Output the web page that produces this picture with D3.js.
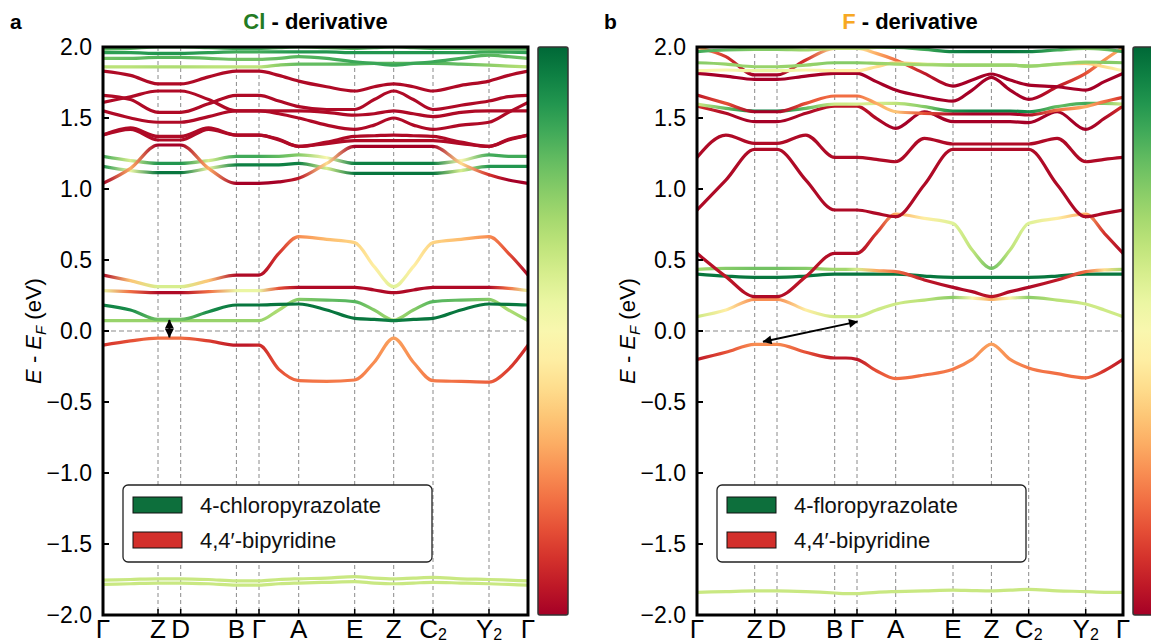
<!DOCTYPE html>
<html><head><meta charset="utf-8">
<script src="https://cdn.jsdelivr.net/npm/d3@7"></script>
<style>
body{margin:0;background:#fff}
svg{display:block}
text{font-family:"Liberation Sans",Arial,Helvetica,sans-serif}
</style>
</head><body>
<svg id="chart" width="1151" height="643"></svg>
<script>
// ---------- k-path (high-symmetry points) ----------
const kLabels = ["Γ","Z","D","B","Γ","A","E","Z","C|2","Y|2","Γ"];
const kTicksA = [0, 0.550, 0.777, 1.334, 1.560, 1.957, 2.517, 2.907, 3.300, 3.860, 4.250];
const kTicksB = [0, 0.577, 0.800, 1.377, 1.600, 1.987, 2.560, 2.944, 3.317, 3.887, 4.260];
const yTicks = [2.0, 1.5, 1.0, 0.5, 0.0, -0.5, -1.0, -1.5, -2.0];
// Each band: energies (eV) at every high-symmetry point and segment midpoint (21 samples);
// colour value = pyrazolate weight (0 = bipyridine, 1 = pyrazolate)

// ---------- panel a : Cl derivative ----------
const aG1  = [1.985,1.99,2.0,2.0,2.0,1.995,1.99,1.99,1.99,1.995,2.0,1.995,1.99,1.995,2.0,1.995,1.99,1.99,1.985,1.985,1.985];
const aG1c = [0.82,0.82,0.8,0.8,0.8,0.82,0.85,0.85,0.85,0.82,0.8,0.8,0.82,0.82,0.8,0.82,0.82,0.82,0.8,0.82,0.82];
const aG2  = [1.96,1.96,1.955,1.955,1.955,1.96,1.965,1.965,1.965,1.965,1.965,1.965,1.96,1.96,1.96,1.96,1.96,1.96,1.965,1.963,1.96];
const aG2c = [0.88,0.88,0.9,0.9,0.9,0.88,0.85,0.85,0.85,0.88,0.9,0.9,0.9,0.9,0.9,0.9,0.9,0.88,0.85,0.86,0.88];
const aG3  = [1.92,1.92,1.927,1.927,1.927,1.92,1.913,1.913,1.913,1.92,1.932,1.92,1.896,1.885,1.873,1.885,1.896,1.92,1.943,1.932,1.92];
const aG3c = [0.78,0.8,0.82,0.82,0.82,0.8,0.78,0.78,0.78,0.8,0.82,0.84,0.86,0.86,0.86,0.86,0.86,0.84,0.82,0.8,0.78];
const aG4  = [1.86,1.86,1.86,1.86,1.86,1.86,1.86,1.86,1.86,1.873,1.88,1.88,1.88,1.885,1.885,1.885,1.885,1.88,1.873,1.866,1.86];
const aG4c = [0.66,0.66,0.68,0.68,0.68,0.66,0.65,0.65,0.65,0.74,0.8,0.8,0.82,0.82,0.82,0.82,0.82,0.8,0.74,0.7,0.66];
const aR1  = [1.83,1.80,1.74,1.74,1.74,1.79,1.83,1.83,1.83,1.80,1.76,1.72,1.69,1.72,1.74,1.72,1.69,1.73,1.76,1.80,1.83];
const aR2  = [1.66,1.63,1.54,1.54,1.54,1.60,1.66,1.66,1.66,1.62,1.58,1.56,1.56,1.63,1.69,1.63,1.56,1.59,1.62,1.65,1.66];
const aR3  = [1.61,1.65,1.69,1.69,1.69,1.63,1.55,1.55,1.55,1.55,1.55,1.54,1.52,1.53,1.55,1.53,1.51,1.54,1.55,1.55,1.55];
const aR4  = [1.55,1.50,1.47,1.47,1.47,1.51,1.55,1.55,1.55,1.53,1.50,1.45,1.42,1.45,1.50,1.45,1.42,1.45,1.47,1.54,1.61];
const aR5  = [1.38,1.43,1.37,1.37,1.37,1.43,1.38,1.38,1.38,1.35,1.30,1.33,1.37,1.375,1.38,1.375,1.37,1.33,1.30,1.35,1.38];
const aR6  = [1.38,1.42,1.345,1.345,1.345,1.42,1.38,1.38,1.38,1.345,1.30,1.32,1.34,1.34,1.34,1.34,1.34,1.32,1.30,1.345,1.38];
const aR7  = [1.04,1.145,1.31,1.31,1.31,1.145,1.04,1.04,1.04,1.05,1.075,1.18,1.30,1.30,1.30,1.30,1.30,1.18,1.10,1.063,1.04];
const aR7c = [0.0,0.3,0.0,0.0,0.0,0.3,0.0,0.0,0.0,0.0,0.05,0.4,0.0,0.0,0.0,0.0,0.0,0.4,0.1,0.0,0.0];
const redC = [0.02,0.02,0.02,0.02,0.02,0.02,0.02,0.02,0.02,0.02,0.02,0.02,0.02,0.02,0.02,0.02,0.02,0.02,0.02,0.02,0.02];
const aP1  = [1.23,1.20,1.18,1.18,1.18,1.20,1.23,1.23,1.23,1.23,1.24,1.22,1.18,1.18,1.18,1.18,1.18,1.20,1.24,1.23,1.23];
const aP1c = [0.85,0.6,0.9,0.9,0.9,0.6,0.85,0.85,0.85,0.8,0.75,0.5,0.95,0.95,0.95,0.95,0.95,0.5,0.85,0.85,0.85];
const aP2  = [1.16,1.13,1.115,1.115,1.115,1.145,1.17,1.17,1.17,1.17,1.18,1.145,1.11,1.11,1.11,1.11,1.11,1.13,1.16,1.16,1.16];
const aP2c = [0.9,0.55,0.97,0.97,0.97,0.55,0.95,0.95,0.95,0.95,0.95,0.6,0.97,0.97,0.97,0.97,0.97,0.6,0.9,0.9,0.9];
const aC1  = [0.394,0.355,0.312,0.312,0.312,0.355,0.394,0.394,0.394,0.547,0.664,0.645,0.622,0.453,0.312,0.453,0.622,0.645,0.664,0.547,0.394];
const aC1c = [0.02,0.35,0.6,0.6,0.6,0.35,0.02,0.02,0.02,0.1,0.25,0.33,0.38,0.45,0.58,0.45,0.38,0.33,0.25,0.15,0.02];
const aC2  = [0.284,0.277,0.270,0.270,0.270,0.277,0.284,0.284,0.284,0.300,0.307,0.307,0.307,0.289,0.270,0.289,0.307,0.307,0.307,0.300,0.284];
const aC2c = [0.55,0.2,0.02,0.02,0.02,0.2,0.55,0.55,0.55,0.15,0.02,0.02,0.02,0.02,0.02,0.02,0.02,0.02,0.02,0.2,0.55];
const aC3  = [0.183,0.148,0.082,0.082,0.082,0.136,0.183,0.183,0.183,0.188,0.190,0.148,0.089,0.082,0.073,0.082,0.089,0.148,0.190,0.188,0.183];
const aC3c = [0.95,0.92,0.78,0.78,0.78,0.92,0.97,0.97,0.97,0.97,0.97,0.97,0.97,0.97,0.95,0.97,0.97,0.97,0.97,0.97,0.95];
const aC4  = [0.073,0.073,0.073,0.073,0.073,0.073,0.073,0.073,0.073,0.148,0.223,0.218,0.207,0.148,0.077,0.148,0.207,0.218,0.223,0.148,0.073];
const aC4c = [0.72,0.72,0.72,0.72,0.72,0.72,0.72,0.72,0.72,0.68,0.75,0.8,0.82,0.75,0.7,0.75,0.82,0.8,0.75,0.68,0.72];
const aV   = [-0.10,-0.07,-0.05,-0.05,-0.05,-0.07,-0.10,-0.10,-0.10,-0.27,-0.35,-0.355,-0.345,-0.22,-0.05,-0.22,-0.35,-0.355,-0.36,-0.27,-0.10];
const aVc  = [0.1,0.15,0.2,0.2,0.2,0.12,0.05,0.05,0.08,0.15,0.2,0.22,0.22,0.25,0.28,0.25,0.22,0.2,0.18,0.12,0.08];
const aB1  = [-1.755,-1.75,-1.745,-1.745,-1.745,-1.75,-1.76,-1.76,-1.76,-1.75,-1.745,-1.74,-1.73,-1.74,-1.745,-1.74,-1.735,-1.745,-1.75,-1.755,-1.76];
const aB2  = [-1.785,-1.78,-1.775,-1.775,-1.775,-1.78,-1.79,-1.79,-1.79,-1.78,-1.775,-1.77,-1.765,-1.775,-1.78,-1.775,-1.77,-1.775,-1.78,-1.785,-1.79];
const lowC = [0.63,0.63,0.63,0.63,0.63,0.63,0.63,0.63,0.63,0.63,0.63,0.63,0.63,0.63,0.63,0.63,0.63,0.63,0.63,0.63,0.63];

// ---------- panel b : F derivative ----------
const bG1  = [1.967,1.979,1.983,1.983,1.983,1.979,1.990,1.990,1.990,1.997,1.997,1.983,1.967,1.967,1.967,1.967,1.967,1.979,1.990,1.983,1.967];
const bG1c = [0.85,0.8,0.75,0.75,0.75,0.7,0.65,0.65,0.65,0.7,0.8,0.85,0.95,0.97,0.97,0.97,0.95,0.85,0.75,0.78,0.85];
const bG2  = [1.889,1.880,1.861,1.861,1.861,1.873,1.889,1.889,1.889,1.885,1.880,1.875,1.873,1.873,1.873,1.873,1.866,1.880,1.894,1.892,1.889];
const bG2c = [0.75,0.72,0.72,0.72,0.72,0.72,0.75,0.75,0.75,0.72,0.7,0.7,0.72,0.72,0.72,0.72,0.72,0.72,0.72,0.75,0.75];
const bPa  = [1.833,1.838,1.833,1.833,1.833,1.838,1.833,1.833,1.833,1.861,1.889,1.880,1.873,1.873,1.873,1.873,1.866,1.880,1.885,1.861,1.833];
const bPac = [0.5,0.5,0.55,0.55,0.55,0.5,0.45,0.45,0.45,0.4,0.35,0.6,0.7,0.7,0.7,0.7,0.7,0.6,0.35,0.4,0.5];
const bR1  = [1.997,1.932,1.803,1.803,1.803,1.908,1.990,1.990,1.990,1.955,1.908,1.814,1.725,1.767,1.810,1.767,1.732,1.720,1.697,1.756,1.814];
const bR1c = [0.3,0.1,0,0,0,0.1,0.4,0.45,0.45,0.3,0.2,0.05,0,0,0,0,0,0,0,0,0];
const bR2  = [1.814,1.795,1.772,1.772,1.772,1.795,1.814,1.814,1.814,1.756,1.697,1.650,1.619,1.697,1.786,1.697,1.631,1.720,1.814,1.908,1.997];
const bR2c = [0,0,0,0,0,0,0,0,0,0,0,0,0,0,0,0,0,0.05,0.15,0.25,0.3];
const bR3  = [1.662,1.603,1.544,1.544,1.544,1.603,1.655,1.655,1.655,1.603,1.544,1.533,1.528,1.528,1.528,1.528,1.521,1.556,1.580,1.615,1.645];
const bR3c = [0.05,0.15,0,0,0,0.15,0.2,0.2,0.2,0.3,0.35,0.15,0.02,0,0,0,0.02,0.2,0.3,0.2,0.1];
const bR4  = [1.584,1.533,1.474,1.474,1.474,1.533,1.584,1.584,1.584,1.497,1.427,1.544,1.474,1.474,1.474,1.474,1.467,1.544,1.420,1.497,1.584];
const bR4c = [0.1,0.02,0,0,0,0.02,0.05,0.05,0.05,0.02,0,0,0,0,0,0,0,0,0,0.02,0.1];
const bGm  = [1.598,1.568,1.549,1.549,1.549,1.568,1.598,1.598,1.598,1.603,1.603,1.580,1.549,1.549,1.549,1.549,1.544,1.580,1.603,1.603,1.598];
const bGmc = [0.62,0.8,0.95,0.95,0.95,0.8,0.62,0.62,0.6,0.6,0.65,0.75,0.92,0.95,0.95,0.95,0.92,0.8,0.85,0.75,0.62];
const bR5  = [1.223,1.380,1.321,1.321,1.321,1.380,1.223,1.223,1.223,1.209,1.192,1.357,1.317,1.317,1.317,1.317,1.317,1.357,1.192,1.209,1.223];
const bR6  = [0.852,1.063,1.279,1.279,1.279,1.063,0.852,0.852,0.852,0.828,0.805,1.030,1.279,1.279,1.279,1.279,1.279,1.030,0.805,0.828,0.852];
const bC1  = [0.547,0.383,0.242,0.242,0.242,0.383,0.547,0.547,0.547,0.688,0.824,0.793,0.758,0.570,0.441,0.570,0.758,0.793,0.824,0.688,0.547];
const bC1c = [0.02,0.05,0.02,0.02,0.02,0.05,0.02,0.02,0.02,0.1,0.3,0.45,0.58,0.65,0.78,0.65,0.58,0.45,0.3,0.1,0.02];
const bC2  = [0.434,0.441,0.441,0.441,0.441,0.441,0.434,0.434,0.434,0.425,0.418,0.359,0.307,0.277,0.242,0.277,0.307,0.359,0.418,0.430,0.434];
const bC2c = [0.7,0.75,0.78,0.78,0.78,0.75,0.7,0.7,0.6,0.3,0.2,0.05,0.02,0.02,0.05,0.02,0.02,0.05,0.2,0.4,0.7];
const bC3  = [0.401,0.387,0.378,0.378,0.378,0.387,0.401,0.401,0.401,0.401,0.401,0.387,0.378,0.378,0.378,0.378,0.378,0.387,0.401,0.401,0.401];
const bC3c = [0.97,0.97,0.97,0.97,0.97,0.97,0.97,0.97,0.97,0.97,0.97,0.97,0.97,0.97,0.97,0.97,0.97,0.97,0.97,0.97,0.97];
const bC4  = [0.101,0.148,0.223,0.223,0.223,0.148,0.101,0.101,0.101,0.148,0.190,0.218,0.237,0.232,0.223,0.232,0.237,0.218,0.190,0.148,0.101];
const bC4c = [0.62,0.45,0.25,0.25,0.25,0.45,0.62,0.62,0.62,0.62,0.62,0.66,0.74,0.5,0.3,0.5,0.74,0.66,0.62,0.62,0.62];
const bV   = [-0.2,-0.15,-0.094,-0.094,-0.094,-0.15,-0.19,-0.19,-0.2,-0.28,-0.335,-0.31,-0.27,-0.2,-0.092,-0.2,-0.26,-0.3,-0.33,-0.28,-0.2];
const bVc  = [0.05,0.15,0.25,0.25,0.25,0.15,0.05,0.05,0.05,0.15,0.2,0.2,0.22,0.25,0.28,0.25,0.22,0.2,0.2,0.1,0.05];
const bB   = [-1.84,-1.835,-1.83,-1.83,-1.83,-1.835,-1.845,-1.85,-1.85,-1.84,-1.835,-1.83,-1.825,-1.828,-1.83,-1.825,-1.82,-1.83,-1.835,-1.84,-1.84];

// gap arrows [k, E]
const arrowA = [[0.664, 0.078], [0.664, -0.045]];
const arrowB = [[0.66, -0.075], [1.605, 0.066]];

const legendA = ["4-chloropyrazolate", "4,4′-bipyridine"];
const legendB = ["4-floropyrazolate", "4,4′-bipyridine"];
const legendColors = ["#0d6f3c", "#d32f2b"];

// ---------- drawing ----------
const svg = d3.select("#chart");
const defs = svg.append("defs");
const yTop = 47, yBot = 615;
const y = d3.scaleLinear().domain([-2, 2]).range([yBot, yTop]);
const col = d3.interpolateRdYlGn;

defs.append("marker").attr("id","ah").attr("viewBox","0 0 10 10")
  .attr("refX",9.5).attr("refY",5).attr("markerWidth",10).attr("markerHeight",9)
  .attr("markerUnits","userSpaceOnUse").attr("orient","auto-start-reverse")
  .append("path").attr("d","M0,0L10,5L0,10z").attr("fill","#000");

const cbg = defs.append("linearGradient").attr("id","cbg").attr("x1",0).attr("y1",1).attr("x2",0).attr("y2",0);
d3.range(0, 21).forEach(i => cbg.append("stop").attr("offset", i/20).attr("stop-color", col(i/20)));

function panel(p) {
  const kmax = p.k[p.k.length - 1];
  const x = d3.scaleLinear().domain([0, kmax]).range([p.x0, p.x1]);
  const grid = [];
  for (let i = 0; i < p.k.length - 1; i++) grid.push(p.k[i], (p.k[i] + p.k[i+1]) / 2);
  grid.push(kmax);

  const g = svg.append("g");
  defs.append("clipPath").attr("id", p.id + "clip").append("rect")
    .attr("x", p.x0).attr("y", yTop).attr("width", p.x1 - p.x0).attr("height", yBot - yTop);

  // dashed guides
  p.k.slice(1, -1).forEach(k => g.append("line").attr("x1", x(k)).attr("x2", x(k))
    .attr("y1", yTop).attr("y2", yBot).attr("stroke", "#8a8a8a").attr("stroke-width", 1).attr("stroke-dasharray", "4,3"));
  g.append("line").attr("x1", p.x0).attr("x2", p.x1).attr("y1", y(0)).attr("y2", y(0))
    .attr("stroke", "#8a8a8a").attr("stroke-width", 1.2).attr("stroke-dasharray", "5,3");

  // bands
  const bg = g.append("g").attr("clip-path", `url(#${p.id}clip)`);
  const line = d3.line().x((d, j) => x(grid[j])).y(d => y(d)).curve(d3.curveMonotoneX);
  p.bands.forEach((b, i) => {
    const gid = p.id + "grad" + i;
    const lg = defs.append("linearGradient").attr("id", gid).attr("gradientUnits", "userSpaceOnUse")
      .attr("x1", p.x0).attr("x2", p.x1).attr("y1", 0).attr("y2", 0);
    grid.forEach((k, j) => lg.append("stop").attr("offset", k / kmax).attr("stop-color", col(b.c[j])));
    bg.append("path").attr("d", line(b.e)).attr("fill", "none")
      .attr("stroke", `url(#${gid})`).attr("stroke-width", 3.2).attr("stroke-linecap", "round");
  });

  // arrow
  g.append("line").attr("x1", x(p.arrow[0][0])).attr("y1", y(p.arrow[0][1]))
    .attr("x2", x(p.arrow[1][0])).attr("y2", y(p.arrow[1][1]))
    .attr("stroke", "#000").attr("stroke-width", 2)
    .attr("marker-start", "url(#ah)").attr("marker-end", "url(#ah)");

  // ticks (inward)
  yTicks.forEach(t => g.append("line").attr("x1", p.x0).attr("x2", p.x0 + 6).attr("y1", y(t)).attr("y2", y(t))
    .attr("stroke", "#000").attr("stroke-width", 2));
  p.k.slice(1, -1).forEach(k => g.append("line").attr("x1", x(k)).attr("x2", x(k)).attr("y1", yBot).attr("y2", yBot - 6)
    .attr("stroke", "#000").attr("stroke-width", 1.5));

  // frame
  g.append("rect").attr("x", p.x0).attr("y", yTop).attr("width", p.x1 - p.x0).attr("height", yBot - yTop)
    .attr("fill", "none").attr("stroke", "#000").attr("stroke-width", 3);

  // y tick labels
  const fmt = d3.format(".1f");
  yTicks.forEach(t => g.append("text").attr("x", p.x0 - 11).attr("y", y(t)).attr("dy", "0.36em")
    .attr("text-anchor", "end").attr("font-size", 23).attr("fill", "#000").text(fmt(t)));

  // x labels
  p.k.forEach((k, i) => {
    const parts = kLabels[i].split("|");
    const t = g.append("text").attr("x", x(k)).attr("y", 637.5).attr("text-anchor", "middle")
      .attr("font-size", 26).attr("fill", "#000");
    t.append("tspan").text(parts[0]);
    if (parts[1]) t.append("tspan").attr("dy", 2).attr("font-size", 16).text(parts[1]);
  });

  // y-axis label
  const yl = g.append("text").attr("transform", `translate(${p.x0 - 62},${y(0)}) rotate(-90)`)
    .attr("text-anchor", "middle").attr("font-size", 22).attr("fill", "#000");
  yl.append("tspan").attr("font-style", "italic").text("E");
  yl.append("tspan").text(" - ");
  yl.append("tspan").attr("font-style", "italic").text("E");
  yl.append("tspan").attr("font-style", "italic").attr("font-size", 15).attr("dy", 5).text("F");
  yl.append("tspan").attr("dy", -5).text(" (eV)");

  // title
  const tt = g.append("text").attr("x", (p.x0 + p.x1) / 2).attr("y", 29).attr("text-anchor", "middle")
    .attr("font-size", 22).attr("font-weight", "bold");
  tt.append("tspan").attr("fill", p.titleColor).text(p.titleWord);
  tt.append("tspan").attr("fill", "#000").text(" - derivative");
  g.append("text").attr("x", p.letterX).attr("y", 29).attr("font-size", 21).attr("font-weight", "bold").text(p.letter);

  // legend
  const lgX = p.x0 + 20, lgY = 485;
  const leg = g.append("g");
  leg.append("rect").attr("x", lgX).attr("y", lgY).attr("width", 309).attr("height", 77).attr("rx", 5)
    .attr("fill", "#fff").attr("stroke", "#222").attr("stroke-width", 1.3);
  p.legend.forEach((s, i) => {
    leg.append("rect").attr("x", lgX + 10).attr("y", lgY + 12 + i * 35).attr("width", 49).attr("height", 16)
      .attr("fill", legendColors[i]).attr("stroke", "#111").attr("stroke-width", 1);
    leg.append("text").attr("x", lgX + 77).attr("y", lgY + 28 + i * 35).attr("font-size", 22).attr("fill", "#111").text(s);
  });

  // colorbar
  g.append("rect").attr("x", p.cbX).attr("y", yTop).attr("width", 30).attr("height", yBot - yTop).attr("rx", 2)
    .attr("fill", "url(#cbg)").attr("stroke", "#333").attr("stroke-width", 1.5);
}

const bandsA = [
  {e: aB1, c: lowC}, {e: aB2, c: lowC},
  {e: aV, c: aVc},
  {e: aC4, c: aC4c}, {e: aC3, c: aC3c}, {e: aC2, c: aC2c}, {e: aC1, c: aC1c},
  {e: aP1, c: aP1c}, {e: aP2, c: aP2c},
  {e: aR7, c: aR7c}, {e: aR6, c: redC}, {e: aR5, c: redC}, {e: aR4, c: redC},
  {e: aR3, c: redC}, {e: aR2, c: redC}, {e: aR1, c: redC},
  {e: aG4, c: aG4c}, {e: aG3, c: aG3c}, {e: aG2, c: aG2c}, {e: aG1, c: aG1c}
];
const bandsB = [
  {e: bB, c: lowC},
  {e: bV, c: bVc},
  {e: bC4, c: bC4c}, {e: bC3, c: bC3c}, {e: bC2, c: bC2c}, {e: bC1, c: bC1c},
  {e: bR6, c: redC}, {e: bR5, c: redC},
  {e: bR4, c: bR4c}, {e: bGm, c: bGmc}, {e: bR3, c: bR3c},
  {e: bR2, c: bR2c}, {e: bR1, c: bR1c},
  {e: bPa, c: bPac}, {e: bG2, c: bG2c}, {e: bG1, c: bG1c}
];

panel({id: "a", x0: 103, x1: 528, k: kTicksA, bands: bandsA, arrow: arrowA,
  titleWord: "Cl", titleColor: "#237b23", letter: "a", letterX: 10, legend: legendA, cbX: 538});
panel({id: "b", x0: 697, x1: 1123, k: kTicksB, bands: bandsB, arrow: arrowB,
  titleWord: "F", titleColor: "#f7a823", letter: "b", letterX: 604, legend: legendB, cbX: 1133});
</script>
</body></html>
